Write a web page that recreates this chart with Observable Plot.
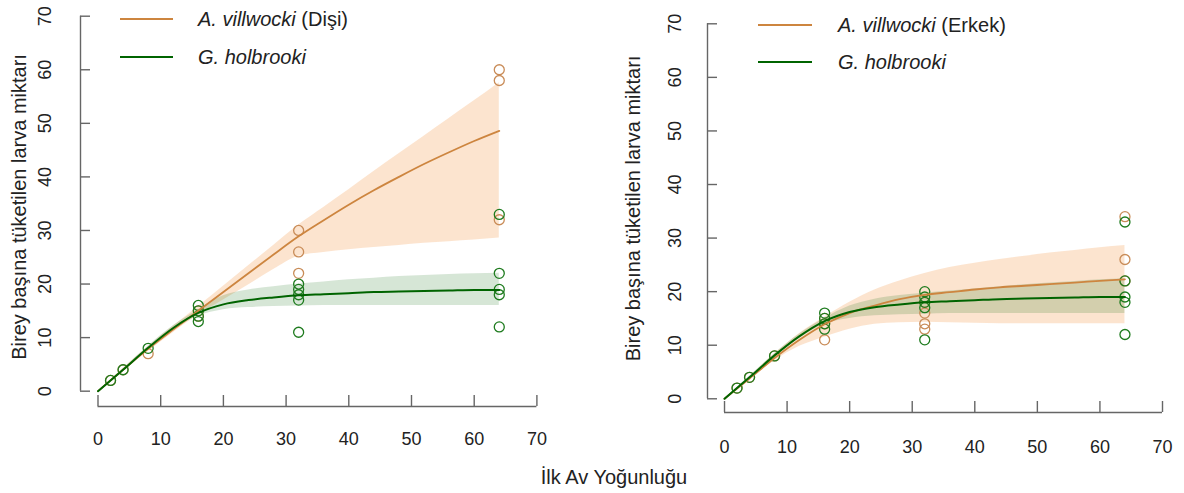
<!DOCTYPE html>
<html>
<head>
<meta charset="utf-8">
<script src="https://cdn.jsdelivr.net/npm/d3@7"></script>
<script src="https://cdn.jsdelivr.net/npm/@observablehq/plot@0.6"></script>
<style>
  html, body { margin: 0; padding: 0; background: #fff; }
  #wrap { position: relative; width: 1184px; height: 493px; font-family: "Liberation Sans", Arial, sans-serif; color: #222; overflow: hidden; }
  .panel { position: absolute; top: 0; }
  .leg { position: absolute; font-size: 20px; line-height: 20px; white-space: nowrap; }
  .sw { position: absolute; height: 0; border-top: 2px solid; }
  #xtitle { position: absolute; font-size: 20px; white-space: nowrap; transform: translate(-50%, -50%); }
</style>
</head>
<body>
<div id="wrap"></div>
<script>
// ---------- data ----------
const xTicks = [0, 10, 20, 30, 40, 50, 60, 70];
const yTicks = [0, 10, 20, 30, 40, 50, 60, 70];
const yTitle = "Birey başına tüketilen larva miktarı";
const xTitle = "İlk Av Yoğunluğu";
const legendFemale = ["A. villwocki", " (Dişi)"];
const legendMale = ["A. villwocki", " (Erkek)"];
const legendHolb = "G. holbrooki";

// fitted curves (x grid shared)
const curveX = [0, 4, 8, 12, 16, 20, 24, 28, 32, 36, 40, 44, 48, 52, 56, 60, 64];

// left panel: A. villwocki (Dişi)
const villFemMean = [0, 4, 7.9, 11.5, 15, 18.5, 22, 25.5, 28.9, 31.9, 34.8, 37.5, 40.0, 42.4, 44.6, 46.7, 48.6];
const villFemHi   = [0, 4.2, 8.3, 12.1, 15.8, 19.6, 23.4, 27.2, 31, 34.3, 37.6, 41, 44.3, 47.6, 50.9, 54.2, 57.6];
const villFemLo   = [0, 3.8, 7.4, 10.9, 14.2, 17, 19.8, 22.7, 25.2, 25.9, 26.4, 26.8, 27.2, 27.6, 27.9, 28.2, 28.6];
// left panel: G. holbrooki
const holbMeanL = [0, 4, 8.1, 11.8, 14.6, 16.2, 17.0, 17.5, 17.9, 18.1, 18.3, 18.5, 18.6, 18.7, 18.8, 18.9, 18.9];
const holbHiL   = [0, 4.2, 8.4, 12.2, 15.2, 17.8, 18.9, 19.5, 20.0, 20.4, 20.8, 21.1, 21.4, 21.6, 21.8, 21.9, 22.0];
const holbLoL   = [0, 3.8, 7.8, 11.4, 14.0, 15.2, 15.6, 15.8, 15.9, 16.0, 16.0, 16.0, 16.0, 16.0, 16.0, 16.0, 16.0];

// right panel: A. villwocki (Erkek)
const villMaleMean = [0, 3.8, 7.6, 11.0, 13.9, 16.0, 17.4, 18.6, 19.4, 19.9, 20.4, 20.8, 21.1, 21.4, 21.7, 22.0, 22.3];
const villMaleHi   = [0, 4.1, 8.4, 12.2, 15.2, 18.0, 20.3, 22.0, 23.4, 24.5, 25.3, 26.0, 26.6, 27.2, 27.7, 28.2, 28.6];
const villMaleLo   = [0, 3.5, 7.1, 9.8, 11.5, 13.0, 13.9, 14.2, 14.3, 14.2, 14.1, 14.0, 14.0, 14.0, 14.0, 14.0, 14.0];
// right panel: G. holbrooki
const holbMeanR = [0, 4, 8.1, 11.7, 14.5, 16.2, 17.1, 17.6, 18.0, 18.2, 18.4, 18.6, 18.7, 18.8, 18.9, 19.0, 19.0];
const holbHiR   = [0, 4.2, 8.4, 12.1, 15.0, 17.3, 18.6, 19.3, 19.7, 20.1, 20.5, 20.9, 21.3, 21.6, 21.9, 22.2, 22.4];
const holbLoR   = [0, 3.8, 7.8, 11.3, 13.9, 15.0, 15.5, 15.7, 15.8, 15.9, 15.9, 15.9, 15.9, 15.9, 15.9, 15.9, 15.9];

// observed points
const villFemPtsX = [2, 4, 8, 16, 16, 32, 32, 32, 64, 64, 64];
const villFemPtsY = [2, 4, 7, 15, 14, 30, 26, 22, 60, 58, 32];
const holbPtsXL = [2, 4, 8, 16, 16, 16, 16, 32, 32, 32, 32, 32, 64, 64, 64, 64, 64];
const holbPtsYL = [2, 4, 8, 16, 15, 14, 13, 20, 19, 18, 17, 11, 33, 22, 19, 18, 12];

const villMalePtsX = [2, 4, 8, 16, 16, 16, 32, 32, 32, 32, 64, 64, 64];
const villMalePtsY = [2, 4, 8, 14, 15, 11, 18, 16, 14, 13, 34, 26, 22];
const holbPtsXR = [2, 4, 8, 16, 16, 16, 16, 32, 32, 32, 32, 32, 64, 64, 64, 64, 64];
const holbPtsYR = [2, 4, 8, 16, 15, 14, 13, 20, 19, 18, 17, 11, 33, 22, 19, 18, 12];

// ---------- styles ----------
const orangeLine = "#cd853f";
const orangeBand = "#f4a460";
const orangePt = "#c98c58";
const greenLine = "#006400";
const greenBand = "#006400";
const greenPt = "#1e7b1e";
const axisColor = "#666";

function rows(xs, m, lo, hi) { return xs.map((x, i) => ({x, m: m[i], lo: lo[i], hi: hi[i]})); }
function pts(xs, ys) { return xs.map((x, i) => ({x, y: ys[i]})); }

function panel(o) {
  const A = rows(curveX, o.aMean, o.aLo, o.aHi);
  const G = rows(curveX, o.gMean, o.gLo, o.gHi);
  const pxPerX = (o.width - o.marginLeft - o.marginRight) / (70 - o.xmin);
  const pxPerY = (o.height - o.marginTop - o.marginBottom) / (70 - o.ymin);
  const yTickLen = 10 / pxPerX;   // y-axis ticks point inward (right)
  const xTickLen = 11 / pxPerY;   // x-axis ticks point inward (up)
  return Plot.plot({
    width: o.width, height: o.height,
    marginLeft: o.marginLeft, marginRight: o.marginRight,
    marginTop: o.marginTop, marginBottom: o.marginBottom,
    x: {domain: [o.xmin, 70], axis: null},
    y: {domain: [o.ymin, 70], axis: null},
    style: {fontFamily: "Liberation Sans, Arial, sans-serif", background: "white", overflow: "visible", color: "#222"},
    marks: [
      Plot.areaY(A, {x: "x", y1: "lo", y2: "hi", fill: orangeBand, fillOpacity: 0.3, curve: "monotone-x"}),
      Plot.areaY(G, {x: "x", y1: "lo", y2: "hi", fill: greenBand, fillOpacity: 0.16, curve: "monotone-x"}),
      Plot.dot(pts(o.aPx, o.aPy), {x: "x", y: "y", r: 5, stroke: orangePt, strokeWidth: 1.3, fill: "none"}),
      Plot.dot(pts(o.gPx, o.gPy), {x: "x", y: "y", r: 5, stroke: greenPt, strokeWidth: 1.3, fill: "none"}),
      Plot.line(A, {x: "x", y: "m", stroke: orangeLine, strokeWidth: 1.8, curve: "monotone-x"}),
      Plot.line(G, {x: "x", y: "m", stroke: greenLine, strokeWidth: 2, curve: "monotone-x"}),
      // y axis
      Plot.ruleX([o.xmin], {y1: 0, y2: 70, stroke: axisColor, strokeWidth: 1.4}),
      Plot.ruleY(yTicks, {y: d => d, x1: o.xmin, x2: o.xmin + yTickLen, stroke: axisColor, strokeWidth: 1.4}),
      Plot.text(yTicks, {x: o.xmin, y: d => d, text: d => String(d), rotate: -90, dx: o.yLabelDx, fontSize: 18, fill: "#222"}),
      // x axis
      Plot.ruleY([o.ymin], {x1: 0, x2: 70, stroke: axisColor, strokeWidth: 1.4}),
      Plot.ruleX(xTicks, {x: d => d, y1: o.ymin, y2: o.ymin + xTickLen, stroke: axisColor, strokeWidth: 1.4}),
      Plot.text(xTicks, {x: d => d, y: o.ymin, text: d => String(d), dy: o.xLabelDy, fontSize: 18, fill: "#222"}),
      // y title
      Plot.text([yTitle], {frameAnchor: "left", text: d => d, rotate: -90, textAnchor: "middle", lineAnchor: "middle", dx: o.titleDx, dy: o.titleDy, fontSize: 20, fill: "#222"})
    ]
  });
}

const wrap = document.getElementById("wrap");

const left = panel({
  width: 592, height: 493, marginLeft: 80, marginRight: 55.6, marginTop: 15.7, marginBottom: 87,
  xmin: -2.79, ymin: -2.86,
  aMean: villFemMean, aLo: villFemLo, aHi: villFemHi,
  gMean: holbMeanL, gLo: holbLoL, gHi: holbHiL,
  aPx: villFemPtsX, aPy: villFemPtsY, gPx: holbPtsXL, gPy: holbPtsYL,
  yLabelDx: -35, xLabelDy: 33, titleDx: -61, titleDy: -4.4
});
left.classList.add("panel"); left.style.left = "0px";
wrap.appendChild(left);

const right = panel({
  width: 592, height: 493, marginLeft: 115, marginRight: 22, marginTop: 23.3, marginBottom: 81,
  xmin: -2.72, ymin: -2.56,
  aMean: villMaleMean, aLo: villMaleLo, aHi: villMaleHi,
  gMean: holbMeanR, gLo: holbLoR, gHi: holbHiR,
  aPx: villMalePtsX, aPy: villMalePtsY, gPx: holbPtsXR, gPy: holbPtsYR,
  yLabelDx: -32, xLabelDy: 34.5, titleDx: -74, titleDy: -9.7
});
right.classList.add("panel"); right.style.left = "592px";
wrap.appendChild(right);

// legends (HTML)
function legend(x0, x1, tx, yA, yG, labA) {
  const items = [[yA, orangeLine, labA], [yG, greenLine, [legendHolb, ""]]];
  for (const [y, c, lab] of items) {
    const sw = document.createElement("div");
    sw.className = "sw";
    sw.style.left = x0 + "px"; sw.style.width = (x1 - x0) + "px";
    sw.style.top = (y - 1) + "px"; sw.style.borderTopColor = c;
    wrap.appendChild(sw);
    const t = document.createElement("div");
    t.className = "leg";
    t.style.left = tx + "px"; t.style.top = (y - 10) + "px";
    const it = document.createElement("i"); it.textContent = lab[0];
    t.appendChild(it);
    t.appendChild(document.createTextNode(lab[1]));
    wrap.appendChild(t);
  }
}
legend(120, 173, 198, 19, 57, legendFemale);
legend(758, 812, 838, 25, 62, legendMale);

const xt = document.createElement("div");
xt.id = "xtitle"; xt.textContent = xTitle;
xt.style.left = "614px"; xt.style.top = "477px";
wrap.appendChild(xt);
</script>
</body>
</html>
